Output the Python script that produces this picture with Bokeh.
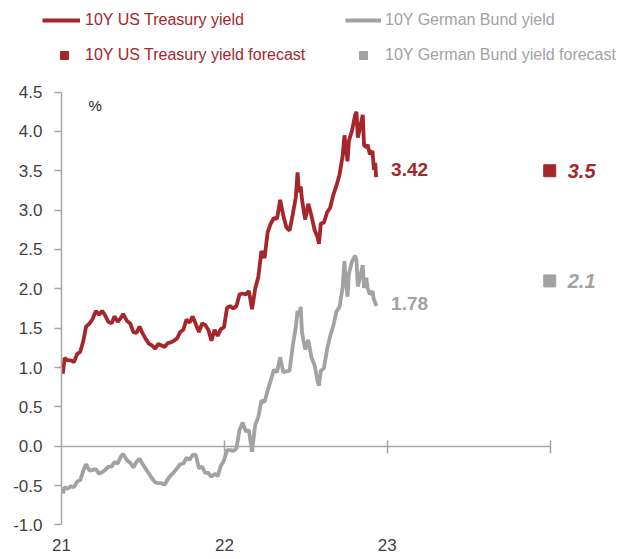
import pandas as pd
from bokeh.plotting import figure
from bokeh.models import (ColumnDataSource, DatetimeAxis, LinearAxis, FixedTicker, NumeralTickFormatter,
                          DatetimeTickFormatter, Legend, LegendItem, Label)
from bokeh.embed import file_html
from bokeh.resources import INLINE

# ---------------- data ----------------
dates = [
    "2021-01-04", "2021-01-08", "2021-01-15", "2021-01-22", "2021-01-29", "2021-02-05", "2021-02-12",
    "2021-02-19", "2021-02-25", "2021-03-05", "2021-03-12", "2021-03-19", "2021-03-26", "2021-04-02",
    "2021-04-09", "2021-04-16", "2021-04-23", "2021-04-30", "2021-05-07", "2021-05-14", "2021-05-19",
    "2021-05-28", "2021-06-04", "2021-06-11", "2021-06-18", "2021-06-25", "2021-07-02", "2021-07-09",
    "2021-07-16", "2021-07-23", "2021-07-30", "2021-08-06", "2021-08-13", "2021-08-20", "2021-08-27",
    "2021-09-03", "2021-09-10", "2021-09-17", "2021-09-24", "2021-10-01", "2021-10-08", "2021-10-15",
    "2021-10-22", "2021-10-29", "2021-11-05", "2021-11-12", "2021-11-19", "2021-11-26", "2021-12-03",
    "2021-12-10", "2021-12-17", "2021-12-24", "2021-12-31", "2022-01-07", "2022-01-14", "2022-01-21",
    "2022-01-28", "2022-02-04", "2022-02-11", "2022-02-18", "2022-02-25", "2022-03-04", "2022-03-11",
    "2022-03-18", "2022-03-25", "2022-04-01", "2022-04-08", "2022-04-15", "2022-04-22", "2022-04-29",
    "2022-05-06", "2022-05-13", "2022-05-20", "2022-05-27", "2022-06-03", "2022-06-10", "2022-06-14",
    "2022-06-17", "2022-06-21", "2022-06-24", "2022-07-01", "2022-07-08", "2022-07-15", "2022-07-22",
    "2022-07-29", "2022-08-01", "2022-08-05", "2022-08-12", "2022-08-19", "2022-08-26", "2022-09-02",
    "2022-09-09", "2022-09-16", "2022-09-23", "2022-09-27", "2022-09-30", "2022-10-04", "2022-10-07",
    "2022-10-14", "2022-10-21", "2022-10-24", "2022-10-27", "2022-11-01", "2022-11-07", "2022-11-10",
    "2022-11-15", "2022-11-18", "2022-11-23", "2022-11-29", "2022-12-02", "2022-12-05", "2022-12-07",
]
us_yield = [
    0.92, 1.12, 1.09, 1.09, 1.07, 1.17, 1.20,
    1.34, 1.52, 1.56, 1.62, 1.72, 1.67, 1.72,
    1.66, 1.58, 1.56, 1.65, 1.58, 1.63, 1.68,
    1.59, 1.56, 1.45, 1.44, 1.52, 1.43, 1.36,
    1.30, 1.28, 1.24, 1.30, 1.28, 1.26, 1.31,
    1.32, 1.34, 1.37, 1.45, 1.48, 1.61, 1.57,
    1.65, 1.55, 1.45, 1.56, 1.54, 1.48, 1.34,
    1.48, 1.40, 1.49, 1.51, 1.76, 1.78, 1.75,
    1.78, 1.93, 1.94, 1.93, 1.97, 1.74, 2.00,
    2.15, 2.48, 2.39, 2.72, 2.83, 2.90, 2.89,
    3.13, 2.93, 2.78, 2.74, 2.94, 3.16, 3.48,
    3.23, 3.30, 3.13, 2.88, 3.08, 2.93, 2.75,
    2.65, 2.57, 2.83, 2.84, 2.97, 3.03, 3.19,
    3.31, 3.45, 3.69, 3.95, 3.80, 3.62, 3.88,
    4.01, 4.21, 4.25, 3.92, 4.05, 4.21, 3.82,
    3.80, 3.83, 3.71, 3.75, 3.51, 3.60, 3.42,
]
bund_yield = [
    -0.60, -0.52, -0.54, -0.51, -0.52, -0.45, -0.43,
    -0.31, -0.23, -0.31, -0.30, -0.29, -0.35, -0.33,
    -0.30, -0.26, -0.26, -0.20, -0.22, -0.13, -0.10,
    -0.18, -0.21, -0.27, -0.20, -0.16, -0.23, -0.29,
    -0.35, -0.41, -0.46, -0.47, -0.47, -0.49, -0.42,
    -0.37, -0.33, -0.28, -0.23, -0.22, -0.15, -0.17,
    -0.11, -0.11, -0.28, -0.26, -0.34, -0.34, -0.39,
    -0.35, -0.38, -0.25, -0.18, -0.05, -0.05, -0.06,
    -0.03, 0.21, 0.30, 0.19, 0.20, -0.07, 0.27,
    0.37, 0.58, 0.56, 0.71, 0.84, 0.97, 0.94,
    1.13, 0.94, 0.95, 0.96, 1.27, 1.51, 1.72,
    1.66, 1.77, 1.44, 1.23, 1.35, 1.13, 1.03,
    0.82, 0.77, 0.96, 0.99, 1.23, 1.40, 1.53,
    1.71, 1.77, 2.02, 2.35, 2.11, 1.90, 2.19,
    2.35, 2.42, 2.36, 2.03, 2.15, 2.30, 2.01,
    2.14, 2.01, 1.93, 1.97, 1.86, 1.83, 1.78,
]
forecast_date = ["2023-12-31"]
us_forecast = [3.5]
bund_forecast = [2.1]

label_year_ticks = ["2021-01-01", "2022-01-01", "2023-01-01"]
zero_line_ticks = ["2022-01-01", "2023-01-01", "2024-01-01"]
y_ticks = [-1.0, -0.5, 0.0, 0.5, 1.0, 1.5, 2.0, 2.5, 3.0, 3.5, 4.0, 4.5]

# ---------------- style ----------------
RED = "#A5262B"
GREY = "#A2A2A2"
AXIS = "#A6A6A6"
TICK_TEXT = "#3F3F3F"
FONT = "Liberation Sans"

W, H = 630, 559          # the frame spans the whole canvas
PX_PER_YEAR = 163
AXIS_X = 61              # pixel column of the y axis (start of 2021)
PX_PER_UNIT = 78.7
ZERO_Y = 445.7           # pixel row of 0 %


def ms(d):
    return pd.Timestamp(d).value / 1e6


origin = pd.Timestamp(label_year_ticks[0])
x_start = origin - pd.Timedelta(days=AXIS_X / PX_PER_YEAR * 365.25)
x_end = origin + pd.Timedelta(days=(W - AXIS_X) / PX_PER_YEAR * 365.25)
y_top = ZERO_Y / PX_PER_UNIT
y_bottom = -(H - ZERO_Y) / PX_PER_UNIT

p = figure(width=W, height=H, x_axis_type="datetime", x_axis_location=None, y_axis_location=None,
           x_range=(x_start, x_end), y_range=(y_bottom, y_top),
           output_backend="svg", toolbar_location=None,
           min_border_left=0, min_border_right=0, min_border_top=0, min_border_bottom=0)
p.outline_line_color = None
p.xgrid.visible = False
p.ygrid.visible = False
p.background_fill_color = "white"

src = ColumnDataSource(dict(date=pd.to_datetime(dates), us=us_yield, bund=bund_yield))
fsrc = ColumnDataSource(dict(date=pd.to_datetime(forecast_date), us=us_forecast, bund=bund_forecast))

bund_line = p.line("date", "bund", source=src, line_width=3.8, line_color=GREY)
us_line = p.line("date", "us", source=src, line_width=3.8, line_color=RED)
us_sq = p.scatter("date", "us", source=fsrc, marker="square", size=12, color=RED)
bund_sq = p.scatter("date", "bund", source=fsrc, marker="square", size=12, color=GREY)

# y axis, pinned at the start of 2021
ya = LinearAxis(fixed_location=ms(origin), ticker=FixedTicker(ticks=y_ticks),
                formatter=NumeralTickFormatter(format="0.0"), bounds=(y_ticks[0], y_ticks[-1]))
ya.axis_line_color = AXIS
ya.axis_line_width = 1.5
ya.major_tick_line_color = AXIS
ya.major_tick_line_width = 1.5
ya.major_tick_out = 7
ya.major_tick_in = 0
ya.minor_tick_line_color = None
ya.major_label_standoff = 12
ya.major_label_text_font = FONT
ya.major_label_text_font_size = "17px"
ya.major_label_text_color = TICK_TEXT
p.add_layout(ya, "left")

# year labels, pinned under the bottom of the value axis
xa = DatetimeAxis(fixed_location=y_ticks[0], ticker=FixedTicker(ticks=[ms(d) for d in label_year_ticks]),
                  formatter=DatetimeTickFormatter(years="%y", months="%y", days="%y", hours="%y",
                                                  minutes="%y", seconds="%y", milliseconds="%y"))
xa.axis_line_color = None
xa.major_tick_line_color = None
xa.minor_tick_line_color = None
xa.major_tick_out = 0
xa.major_tick_in = 0
xa.major_label_standoff = 14
xa.major_label_text_font = FONT
xa.major_label_text_font_size = "17px"
xa.major_label_text_color = TICK_TEXT
p.add_layout(xa, "below")

# zero line axis
za = DatetimeAxis(fixed_location=0, ticker=FixedTicker(ticks=[ms(d) for d in zero_line_ticks]),
                  bounds=(ms(origin), ms(zero_line_ticks[-1])))
za.axis_line_color = AXIS
za.axis_line_width = 1.5
za.major_tick_line_color = AXIS
za.major_tick_line_width = 1.5
za.major_tick_in = 6
za.major_tick_out = 7
za.minor_tick_line_color = None
za.major_label_text_alpha = 0
za.major_label_text_font_size = "1px"
p.add_layout(za, "below")


# legends (one per entry so each label keeps its series colour)
def add_legend(renderer, text, color, x, y_center, gw, standoff):
    lg = Legend(items=[LegendItem(label=text, renderers=[renderer])],
                location=(x, H - y_center - 10), orientation="horizontal",
                glyph_width=gw, glyph_height=20, label_height=20, label_standoff=standoff,
                padding=0, margin=0, spacing=0, border_line_color=None,
                background_fill_alpha=0, label_text_color=color,
                label_text_font=FONT, label_text_font_size="16px")
    p.add_layout(lg)


add_legend(us_line, "10Y US Treasury yield", RED, 42, 20, 38, 5)
add_legend(bund_line, "10Y German Bund yield", GREY, 345, 20, 36, 4)
add_legend(us_sq, "10Y US Treasury yield forecast", RED, 49, 55, 30, 6)
add_legend(bund_sq, "10Y German Bund yield forecast", GREY, 348, 55, 30, 7)

# end-of-series value labels
p.add_layout(Label(x=ms(dates[-1]), y=us_yield[-1], text=f"{us_yield[-1]:.2f}", x_offset=15, y_offset=8,
                   text_baseline="middle", text_font=FONT, text_font_style="bold",
                   text_font_size="19px", text_color=RED))
p.add_layout(Label(x=ms(dates[-1]), y=bund_yield[-1], text=f"{bund_yield[-1]:.2f}", x_offset=15, y_offset=3,
                   text_baseline="middle", text_font=FONT, text_font_style="bold",
                   text_font_size="19px", text_color=GREY))
# forecast value labels
p.add_layout(Label(x=ms(forecast_date[0]), y=us_forecast[0], text=f"{us_forecast[0]:.1f}", x_offset=18,
                   text_baseline="middle", text_font=FONT, text_font_style="bold italic",
                   text_font_size="20px", text_color=RED))
p.add_layout(Label(x=ms(forecast_date[0]), y=bund_forecast[0], text=f"{bund_forecast[0]:.1f}", x_offset=18,
                   text_baseline="middle", text_font=FONT, text_font_style="bold italic",
                   text_font_size="20px", text_color=GREY))
# unit
p.add_layout(Label(x=88, y=H - 105, x_units="screen", y_units="screen", text="%",
                   text_baseline="middle", text_font=FONT, text_font_size="15px", text_color="#222222"))

open("out.html", "w").write(file_html(p, INLINE))
